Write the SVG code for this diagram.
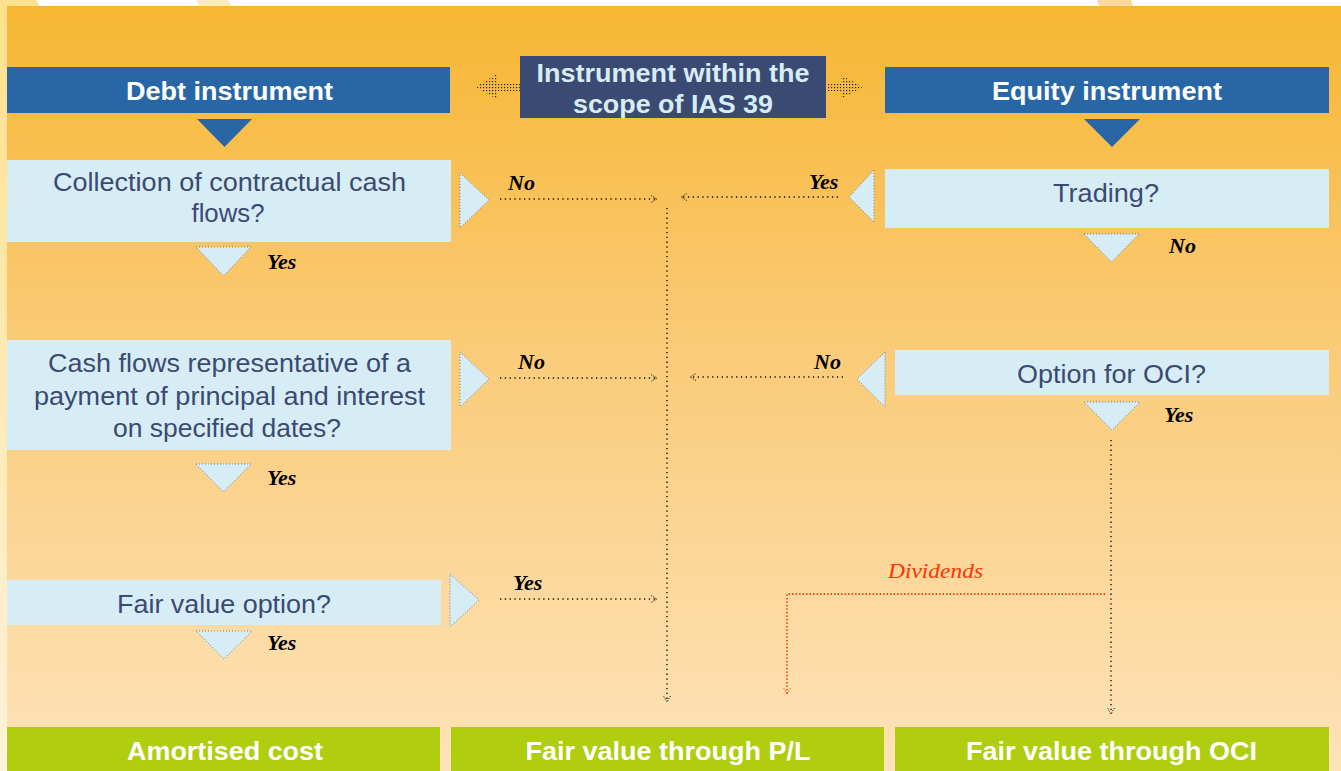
<svg xmlns="http://www.w3.org/2000/svg" width="1341" height="771" viewBox="0 0 1341 771">
<defs>
<linearGradient id="bg" x1="0" y1="0" x2="0" y2="1">
<stop offset="0" stop-color="#F7B632"/>
<stop offset="0.45" stop-color="#FACB78"/>
<stop offset="1" stop-color="#FDE3BA"/>
</linearGradient>
<linearGradient id="strip" x1="0" y1="0" x2="0" y2="1">
<stop offset="0" stop-color="#FDE18C"/>
<stop offset="1" stop-color="#FEF3DC"/>
</linearGradient>
<pattern id="dots" width="3" height="3" patternUnits="userSpaceOnUse">
<rect x="0" y="0" width="1.2" height="1.2" fill="#222"/>
</pattern>
<marker id="ah" viewBox="0 0 8 8" refX="6" refY="4" markerWidth="8" markerHeight="8" markerUnits="userSpaceOnUse" orient="auto">
<path d="M0,0.5 L6,4 L0,7.5" fill="none" stroke="#111" stroke-width="1" stroke-dasharray="1 1.2"/>
</marker>
<marker id="ahr" viewBox="0 0 8 8" refX="6" refY="4" markerWidth="8" markerHeight="8" markerUnits="userSpaceOnUse" orient="auto">
<path d="M0,0.5 L6,4 L0,7.5" fill="none" stroke="#FF3300" stroke-width="1" stroke-dasharray="1 1.2"/>
</marker>
<style>
.hdr{fill:#2866A6}
.q{fill:#D7EDF6}
.res{fill:#B0CD0F}
.ht{font-family:"Liberation Sans",Arial,sans-serif;font-size:25px;font-weight:bold;fill:#FFFFFF;text-anchor:middle}
.qt{font-family:"Liberation Sans",Arial,sans-serif;font-size:25px;fill:#3B4A72;text-anchor:middle}
.it{font-family:"Liberation Sans",Arial,sans-serif;font-size:25px;font-weight:bold;fill:#D7EDF6;text-anchor:middle}
.yn{font-family:"Liberation Serif","Times New Roman",serif;font-size:22px;font-style:italic;font-weight:bold;fill:#000}
.tri{fill:#D7EDF6;stroke:#5E80AE;stroke-width:1;stroke-dasharray:1 2}
.dl{fill:none;stroke:#111;stroke-width:1.4;stroke-dasharray:1.3 3.5}
.rl{fill:none;stroke:#FF3300;stroke-width:1.8;stroke-dasharray:1.3 2.2}
</style>
</defs>

<g id="background">
<rect x="0" y="0" width="1341" height="771" fill="#FFFFFF"/>
<rect x="0" y="0" width="7" height="771" fill="url(#strip)"/>
<polygon points="0,0 36,0 40,6 0,6" fill="#FDE18C"/>
<polygon points="196,0 228,0 232,6 200,6" fill="#FDEBB5"/>
<polygon points="1097,0 1131,0 1133,6 1099,6" fill="#FCD89A"/>
<rect x="7" y="6" width="1334" height="765" fill="url(#bg)"/>
</g>

<g id="node-ias">
<rect x="520" y="56" width="306" height="62" fill="#3B4A72"/>
<text class="it" x="673" y="82" textLength="273" lengthAdjust="spacingAndGlyphs">Instrument within the</text>
<text class="it" x="673" y="113" textLength="200" lengthAdjust="spacingAndGlyphs">scope of IAS 39</text>
<polygon points="475,87 497,74 497,83 520,83 520,91 497,91 497,99" fill="url(#dots)"/>
<polygon points="863,87 841,75 841,83 827,83 827,91 841,91 841,99" fill="url(#dots)"/>
</g>

<g id="node-debt">
<rect class="hdr" x="7" y="67" width="443" height="46"/>
<text class="ht" x="229.5" y="100" textLength="207" lengthAdjust="spacingAndGlyphs">Debt instrument</text>
<polygon class="hdr" points="197,119 252,119 224.5,147"/>
</g>

<g id="node-equity">
<rect class="hdr" x="885" y="67" width="444" height="46"/>
<text class="ht" x="1107" y="100" textLength="230" lengthAdjust="spacingAndGlyphs">Equity instrument</text>
<polygon class="hdr" points="1084,119 1140,119 1112,147"/>
</g>

<g id="node-collection">
<rect class="q" x="7" y="160" width="444" height="82"/>
<text class="qt" x="229.5" y="191" textLength="353" lengthAdjust="spacingAndGlyphs">Collection of contractual cash</text>
<text class="qt" x="228" y="222" textLength="73" lengthAdjust="spacingAndGlyphs">flows?</text>
<polygon class="tri" points="196,247 251,247 223.5,276"/>
<text class="yn" x="267" y="269">Yes</text>
<polygon class="tri" points="460,173 489,200 460,228"/>
<text class="yn" x="508" y="190">No</text>
</g>

<g id="node-cashflows">
<rect class="q" x="7" y="340" width="444" height="110"/>
<text class="qt" x="229.5" y="372" textLength="363" lengthAdjust="spacingAndGlyphs">Cash flows representative of a</text>
<text class="qt" x="229.5" y="405" textLength="391" lengthAdjust="spacingAndGlyphs">payment of principal and interest</text>
<text class="qt" x="227" y="437" textLength="228" lengthAdjust="spacingAndGlyphs">on specified dates?</text>
<polygon class="tri" points="196,464 251,464 223.5,492"/>
<text class="yn" x="267" y="485">Yes</text>
<polygon class="tri" points="460,352 489,379 460,407"/>
<text class="yn" x="518" y="369">No</text>
</g>

<g id="node-fvo">
<rect class="q" x="7" y="580" width="434" height="45"/>
<text class="qt" x="224" y="613" textLength="214" lengthAdjust="spacingAndGlyphs">Fair value option?</text>
<polygon class="tri" points="196,631 252,631 224,659"/>
<text class="yn" x="267" y="650">Yes</text>
<polygon class="tri" points="450,574 479,600 450,627"/>
<text class="yn" x="513" y="590">Yes</text>
</g>

<g id="node-trading">
<rect class="q" x="885" y="169" width="444" height="59"/>
<text class="qt" x="1106" y="202" textLength="106" lengthAdjust="spacingAndGlyphs">Trading?</text>
<polygon class="tri" points="874,170 849,197 874,222"/>
<text class="yn" x="809" y="189">Yes</text>
<polygon class="tri" points="1084,234 1139,234 1111.5,262"/>
<text class="yn" x="1169" y="253">No</text>
</g>

<g id="node-oci-option">
<rect class="q" x="895" y="350" width="434" height="45"/>
<text class="qt" x="1111.5" y="383" textLength="189" lengthAdjust="spacingAndGlyphs">Option for OCI?</text>
<polygon class="tri" points="885,352 857,379 885,407"/>
<text class="yn" x="814" y="369">No</text>
<polygon class="tri" points="1084,402 1140,402 1112,430"/>
<text class="yn" x="1164" y="422">Yes</text>
</g>

<g id="node-amortised">
<rect class="res" x="7" y="727" width="433" height="44"/>
<text class="ht" x="225" y="760" textLength="196" lengthAdjust="spacingAndGlyphs">Amortised cost</text>
</g>

<g id="node-fvpl">
<rect class="res" x="451" y="727" width="433" height="44"/>
<text class="ht" x="668" y="760" textLength="285" lengthAdjust="spacingAndGlyphs">Fair value through P/L</text>
</g>

<g id="node-fvoci">
<rect class="res" x="895" y="727" width="434" height="44"/>
<text class="ht" x="1111.5" y="760" textLength="291" lengthAdjust="spacingAndGlyphs">Fair value through OCI</text>
</g>

<g id="connectors">
<line class="dl" x1="500" y1="199" x2="657" y2="199" marker-end="url(#ah)"/>
<line class="dl" x1="838" y1="197" x2="681" y2="197" marker-end="url(#ah)"/>
<line class="dl" x1="500" y1="378" x2="657" y2="378" marker-end="url(#ah)"/>
<line class="dl" x1="843" y1="377" x2="690" y2="377" marker-end="url(#ah)"/>
<line class="dl" x1="500" y1="599" x2="657" y2="599" marker-end="url(#ah)"/>
<line class="dl" x1="667" y1="208" x2="667" y2="702" marker-end="url(#ah)"/>
<line class="dl" x1="1111" y1="440" x2="1111" y2="714" marker-end="url(#ah)"/>
<polyline class="rl" points="1105,594 787,594 787,694" marker-end="url(#ahr)"/>
<text x="888" y="578" font-family="Liberation Serif,Times New Roman,serif" font-size="22" font-style="italic" fill="#FF3300" textLength="95" lengthAdjust="spacingAndGlyphs">Dividends</text>
</g>
</svg>
